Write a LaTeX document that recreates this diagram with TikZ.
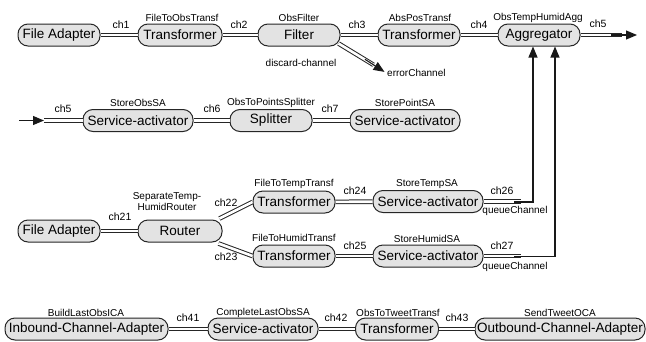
\documentclass[tikz,border=0pt]{standalone}
\usepackage{fontspec}
\setmainfont{Liberation Sans}
\usetikzlibrary{arrows.meta}
\begin{document}
\begin{tikzpicture}[x=1pt,y=-1pt,
  box/.style={draw=black!85, fill=black!11, rounded corners=10pt, line width=1pt,
    minimum height=22pt, inner sep=0pt, font=\fontsize{13.5}{15}\selectfont},
  chan/.style={draw=black!85, line width=1pt, double=white, double distance=2.6pt},
  arr/.style={draw=black!90, line width=1.1pt, -{Triangle[length=11pt,width=9pt]}},
  nm/.style={font=\fontsize{10}{11}\selectfont, inner sep=0pt},
  chl/.style={font=\fontsize{10.5}{12}\selectfont, inner sep=0pt}]
\useasboundingbox (0,0) rectangle (646,341);

% ---------- first chain ----------
\node[box, minimum width=82pt] (fa1) at (59,35) {File Adapter};
\node[box, minimum width=84pt] (tr1) at (180,35) {Transformer};
\node[box, minimum width=82pt] (flt) at (299,35) {Filter};
\node[box, minimum width=82pt] (tr2) at (419,35) {Transformer};
\node[box, minimum width=82pt] (agg) at (539,35) {Aggregator};

\node[nm] (ltr1) at (182,18) {FileToObsTransf};
\node[nm] (lflt) at (299,18) {ObsFilter};
\node[nm] (ltr2) at (420,18) {AbsPosTransf};
\node[nm] (lagg) at (538,18) {ObsTempHumidAgg};
\node[chl] (c1) at (121,25) {ch1};
\node[chl] (c2) at (239,25) {ch2};
\node[chl] (c3) at (357,25) {ch3};
\node[chl] (c4) at (479,25) {ch4};
\node[chl] (c5) at (598,24) {ch5};
\node[nm] (ldis) at (301,63) {discard-channel};
\node[nm, anchor=west] (lerr) at (387,73) {errorChannel};

\draw[chan] (fa1) -- (tr1);
\draw[chan] (tr1) -- (flt);
\draw[chan] (flt) -- (tr2);
\draw[chan] (tr2) -- (agg);

\coordinate (o5a) at (622,35);
\coordinate (o5b) at (611,35);
\coordinate (o5c) at (637,35);
\draw[chan] (agg) -- (o5a);
\draw[arr] (o5b) -- (o5c);

\coordinate (fse) at ([shift={(-2,-3)}]flt.south east);
\coordinate (d1) at (373.5,64.8);
\coordinate (d2) at (365,59.3);
\coordinate (d3) at (384.5,71.9);
\draw[chan] (fse) -- (d1);
\draw[arr] (d2) -- (d3);

% ---------- second chain ----------
\node[box, minimum width=110pt] (sa1) at (138,120.5) {Service-activator};
\node[box, minimum width=82pt] (spl) at (271,120.5) {Splitter};
\node[box, minimum width=110pt] (sa2) at (405,120.5) {Service-activator};

\node[nm] (lsa1) at (138,103) {StoreObsSA};
\node[nm] (lspl) at (271,103) {ObsToPointsSplitter};
\node[nm] (lsa2) at (405,103) {StorePointSA};
\node[chl] (c5b) at (63,109) {ch5};
\node[chl] (c6) at (212,109) {ch6};
\node[chl] (c7) at (330,109) {ch7};

\coordinate (i5a) at (19,120.5);
\coordinate (i5b) at (44,120.5);
\draw[arr] (i5a) -- (i5b);
\draw[chan] (i5b) -- (sa1);
\draw[chan] (sa1) -- (spl);
\draw[chan] (spl) -- (sa2);

% ---------- third chain ----------
\node[box, minimum width=82pt] (fa2) at (59,231) {File Adapter};
\node[box, minimum width=84pt] (rtr) at (180,231) {Router};
\node[box, minimum width=82pt] (tr3) at (294,202) {Transformer};
\node[box, minimum width=82pt] (tr4) at (294,256) {Transformer};
\node[box, minimum width=110pt] (sa3) at (428,201.5) {Service-activator};
\node[box, minimum width=110pt] (sa4) at (428,256) {Service-activator};

\node[nm, align=center] (lrtr) at (167,202) {SeparateTemp-\\HumidRouter};
\node[nm] (ltr3) at (294,184) {FileToTempTransf};
\node[nm] (ltr4) at (294,238) {FileToHumidTransf};
\node[nm] (lsa3) at (427,184) {StoreTempSA};
\node[nm] (lsa4) at (427,239) {StoreHumidSA};
\node[chl] (c21) at (120,217) {ch21};
\node[chl] (c22) at (226,203) {ch22};
\node[chl] (c23) at (226,257) {ch23};
\node[chl] (c24) at (355,191) {ch24};
\node[chl] (c25) at (355,246) {ch25};
\node[chl] (c26) at (502,191) {ch26};
\node[chl] (c27) at (502,246) {ch27};
\node[nm] (lq1) at (515,211) {queueChannel};
\node[nm] (lq2) at (515,267) {queueChannel};

\draw[chan] (fa2) -- (rtr);
\draw[chan] ([shift={(-3,-1)}]rtr.north east) -- (tr3.west);
\draw[chan] ([shift={(-4,1)}]rtr.south east) -- (tr4.west);
\draw[chan] (tr3) -- (sa3);
\draw[chan] (tr4) -- (sa4);

\coordinate (q1) at (521,201.5);
\coordinate (q1s) at (514,202);
\coordinate (q2) at (521,256);
\coordinate (q2s) at (514,256.5);
\draw[chan] (sa3) -- (q1);
\draw[chan] (sa4) -- (q2);
\draw[arr] (q1s) -| ([xshift=-6pt]agg.south);
\draw[arr] (q2s) -| ([xshift=16pt]agg.south);

% ---------- fourth chain ----------
\node[box, minimum width=163pt] (ica) at (86.5,329) {Inbound-Channel-Adapter};
\node[box, minimum width=110pt] (sa5) at (263,329) {Service-activator};
\node[box, minimum width=83pt] (tr5) at (397,329) {Transformer};
\node[box, minimum width=170pt] (oca) at (560,329) {Outbound-Channel-Adapter};

\node[nm] (lica) at (86,313) {BuildLastObsICA};
\node[nm] (lsa5) at (263,313) {CompleteLastObsSA};
\node[nm] (ltr5) at (398,313) {ObsToTweetTransf};
\node[nm] (loca) at (560,313) {SendTweetOCA};
\node[chl] (c41) at (188,318) {ch41};
\node[chl] (c42) at (336,318) {ch42};
\node[chl] (c43) at (457,318) {ch43};

\draw[chan] (ica) -- (sa5);
\draw[chan] (sa5) -- (tr5);
\draw[chan] (tr5) -- (oca);
\end{tikzpicture}
\end{document}
